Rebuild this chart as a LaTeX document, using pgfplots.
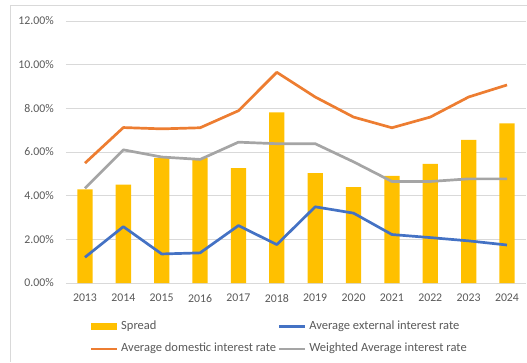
\documentclass[border=0pt]{standalone}
\usepackage{fontspec}
\setmainfont{Carlito}
\usepackage{pgfplots}
\pgfplotsset{compat=1.18}
\definecolor{cOrange}{HTML}{ED7D31}
\definecolor{cBlue}{HTML}{4472C4}
\definecolor{cGray}{HTML}{A5A5A5}
\definecolor{cGold}{HTML}{FFC000}
\definecolor{cGrid}{HTML}{D9D9D9}
\definecolor{cText}{HTML}{595959}
\begin{document}
\fontsize{11.8pt}{14pt}\selectfont
\begin{tikzpicture}
\useasboundingbox (0,0) rectangle (527pt,362pt);
\draw[color=cGrid, line width=1pt] (10pt,0pt) -- (10pt,356pt) -- (527pt,356pt);
\begin{axis}[
  at={(65.8pt,79pt)}, anchor=south west, scale only axis,
  width=460.4pt, height=262pt,
  xmin=2012.5, xmax=2024.5, ymin=0, ymax=12,
  xtick={2013,...,2024}, ytick={0,2,...,12},
  ymajorgrids, grid style={cGrid, line width=1pt},
  axis line style={draw=none},
  tick style={draw=none}, major tick length=0pt,
  /pgf/number format/assume math mode=true,
  /pgf/number format/1000 sep={},
  yticklabel={\pgfmathprintnumber[fixed,fixed zerofill,precision=2]{\tick}\%},
  ticklabel style={text=cText, inner sep=0pt},
  yticklabel style={anchor=east, xshift=-11.8pt},
  xticklabel style={anchor=north, yshift=-11pt},
  legend columns=2,
  legend style={at={(0.0526,-0.145)}, anchor=north west, draw=none, fill=none,
    inner sep=0pt, outer sep=0pt, row sep=11.5pt, column sep=2.5pt,
    font=\fontsize{12.5pt}{14pt}\selectfont,
    nodes={inner sep=0pt, text=cText, anchor=west, text height=8.5pt, text depth=2.5pt},
    /tikz/column 2/.style={column sep=2pt}},
]
\addplot[ybar, bar width=15.3pt, fill=cGold, draw=none,
  legend image code/.code={\fill[cGold] (0pt,-3.7pt) rectangle (26pt,3.7pt);}]
  coordinates {(2013,4.29) (2014,4.51) (2015,5.73) (2016,5.72) (2017,5.26) (2018,7.81)
    (2019,5.03) (2020,4.39) (2021,4.91) (2022,5.46) (2023,6.56) (2024,7.31)};
\addlegendentry{Spread}
\addplot[cBlue, line width=2.7pt, line join=round,
  legend image code/.code={\draw[cBlue, line width=2.7pt] (0pt,0pt) -- (26pt,0pt);}]
  coordinates {(2013,1.18) (2014,2.58) (2015,1.33) (2016,1.38) (2017,2.63) (2018,1.76)
    (2019,3.49) (2020,3.20) (2021,2.22) (2022,2.08) (2023,1.93) (2024,1.74)};
\addlegendentry{Average external interest rate}
\addplot[cOrange, line width=2.7pt, line join=round,
  legend image code/.code={\draw[cOrange, line width=2.7pt] (0pt,0pt) -- (26pt,0pt);}]
  coordinates {(2013,5.49) (2014,7.12) (2015,7.06) (2016,7.11) (2017,7.89) (2018,9.65)
    (2019,8.52) (2020,7.60) (2021,7.11) (2022,7.60) (2023,8.52) (2024,9.07)};
\addlegendentry{Average domestic interest rate}
\addplot[cGray, line width=2.7pt, line join=round,
  legend image code/.code={\draw[cGray, line width=2.7pt] (0pt,0pt) -- (26pt,0pt);}]
  coordinates {(2013,4.34) (2014,6.10) (2015,5.77) (2016,5.66) (2017,6.45) (2018,6.38)
    (2019,6.38) (2020,5.55) (2021,4.65) (2022,4.65) (2023,4.77) (2024,4.77)};
\addlegendentry{Weighted Average interest rate}
\end{axis}
\end{tikzpicture}
\end{document}
